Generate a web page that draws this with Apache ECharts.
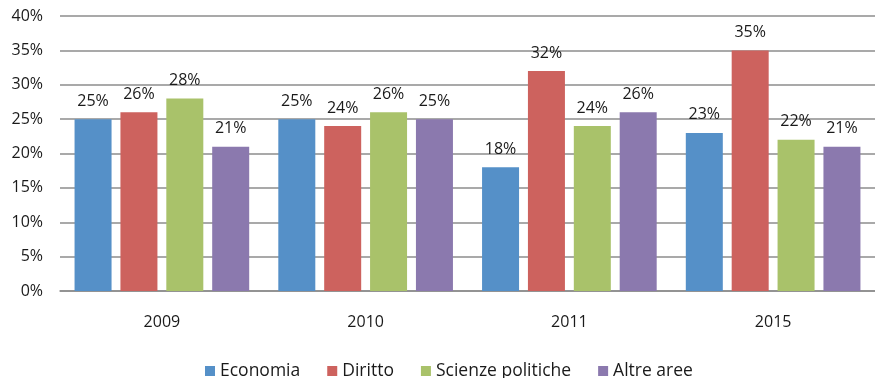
<!DOCTYPE html>
<html><head><meta charset="utf-8">
<script src="https://cdn.jsdelivr.net/npm/echarts@6/dist/echarts.min.js"></script>
<style>html,body{margin:0;padding:0;background:#fff}#c{width:875px;height:378px}</style>
</head><body><div id="c"></div>
<script>
const categories = ['2009', '2010', '2011', '2015'];
const economia = [25, 25, 18, 23];
const diritto = [26, 24, 32, 35];
const scienze = [28, 26, 24, 22];
const altre = [21, 25, 26, 21];
const seriesNames = ['Economia', 'Diritto', 'Scienze politiche', 'Altre aree'];
const colors = ['#5590C8', '#CD625E', '#A9C26A', '#8B79AE'];
const yTicks = [0, 5, 10, 15, 20, 25, 30, 35, 40];

const font = 'Open Sans';
const chart = echarts.init(document.getElementById('c'), null, {renderer: 'canvas'});
const mk = (name, data, i) => ({
  name, type: 'bar', data, barWidth: 37, barGap: '24%',
  itemStyle: {color: colors[i]},
  label: {show: true, position: 'top', distance: 10, formatter: p => p.value + '%',
    color: '#1a1a1a', fontFamily: font, fontSize: 16}
});
chart.setOption({
  animation: false,
  color: colors,
  grid: {left: 60, right: -5, top: 16, bottom: 87, containLabel: false},
  legend: {
    bottom: -7, left: 200, itemWidth: 10, itemHeight: 10, itemGap: 27,
    icon: 'rect',
    textStyle: {fontFamily: font, fontSize: 17.5, color: '#1a1a1a', padding: [0, 0, 0, 0]},
    data: seriesNames
  },
  xAxis: {
    type: 'category', data: categories,
    axisLine: {lineStyle: {color: '#8c8c8c', width: 1.5}},
    axisTick: {show: false},
    axisLabel: {margin: 23, fontFamily: font, fontSize: 16, color: '#1a1a1a'}
  },
  yAxis: {
    type: 'value', min: 0, max: 40, interval: 5,
    axisLine: {show: false}, axisTick: {show: false},
    splitLine: {lineStyle: {color: '#8c8c8c', width: 1.5}},
    axisLabel: {margin: 17, fontFamily: font, fontSize: 16, color: '#1a1a1a',
      formatter: v => yTicks.includes(v) ? v + '%' : ''}
  },
  series: [mk(seriesNames[0], economia, 0), mk(seriesNames[1], diritto, 1),
           mk(seriesNames[2], scienze, 2), mk(seriesNames[3], altre, 3)]
});
</script></body></html>
